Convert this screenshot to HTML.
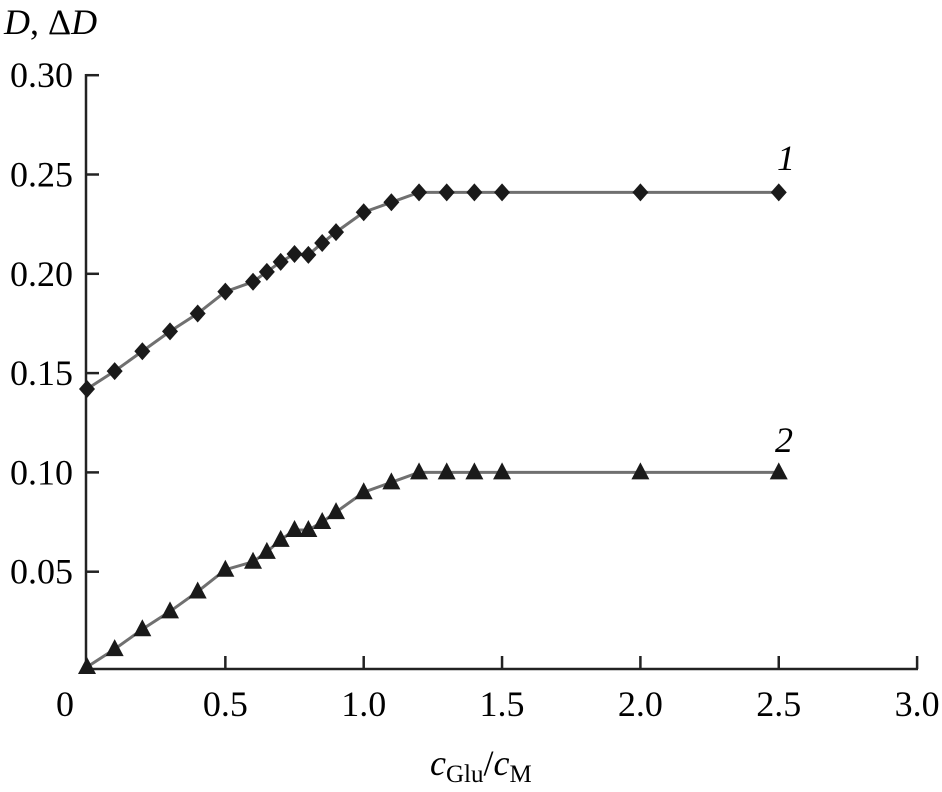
<!DOCTYPE html>
<html><head><meta charset="utf-8"><style>
body{margin:0;background:#fff}
svg{display:block;font-family:"Liberation Serif",serif}
</style></head><body>
<svg id="chart" width="942" height="792" viewBox="0 0 942 792">
<g id="axes"></g>
<g id="marks"></g>
<text x="4" y="34" font-size="36" font-style="italic">D<tspan font-style="normal">, Δ</tspan>D</text>
<text x="430" y="775" font-size="36"><tspan font-style="italic">c</tspan><tspan font-size="25" dy="7">Glu</tspan><tspan dy="-7">/</tspan><tspan font-style="italic">c</tspan><tspan font-size="25" dy="7">M</tspan></text>
<text x="777" y="170" font-size="36" font-style="italic">1</text>
<text x="775" y="452" font-size="36" font-style="italic">2</text>
</svg>
<script>
const xValues=[0,0.1,0.2,0.3,0.4,0.5,0.6,0.65,0.7,0.75,0.8,0.85,0.9,1.0,1.1,1.2,1.3,1.4,1.5,2.0,2.5];
const series1=[0.142,0.151,0.161,0.171,0.180,0.191,0.196,0.201,0.206,0.210,0.2095,0.2155,0.221,0.231,0.236,0.241,0.241,0.241,0.241,0.241,0.241];
const series2=[0.002,0.011,0.021,0.030,0.040,0.051,0.055,0.060,0.066,0.071,0.071,0.075,0.080,0.090,0.095,0.100,0.100,0.100,0.100,0.100,0.100];
const xTicks=[0,0.5,1.0,1.5,2.0,2.5,3.0];
const xTickLabels=["0","0.5","1.0","1.5","2.0","2.5","3.0"];
const yTicks=[0.05,0.10,0.15,0.20,0.25,0.30];
const yTickLabels=["0.05","0.10","0.15","0.20","0.25","0.30"];
const NS="http://www.w3.org/2000/svg";
const X=v=>87+v*276.7;
const Y=v=>671-v*1986;
function mk(tag,attrs,parent){const e=document.createElementNS(NS,tag);for(const k in attrs)e.setAttribute(k,attrs[k]);parent.appendChild(e);return e;}
const ax=document.getElementById('axes'),mg=document.getElementById('marks');
let a=mk('line',{x1:86,y1:74,x2:86,y2:670,stroke:'#222','stroke-width':2.5},ax);


a=mk('line',{x1:85,y1:669,x2:918,y2:669,stroke:'#222','stroke-width':2.5},ax);


xTicks.forEach((v,i)=>{
 if(i>0){const t=mk('line',{x1:X(v),y1:669,x2:X(v),y2:656,stroke:'#222','stroke-width':2.5},ax);
 
 }
 const l=mk('text',{x:i==0?X(v)-22:X(v),y:716,'font-size':36,'text-anchor':'middle'},ax);l.textContent=xTickLabels[i];
 
 
});
yTicks.forEach((v,i)=>{
 const t=mk('line',{x1:86,y1:Y(v),x2:99,y2:Y(v),stroke:'#222','stroke-width':2.5},ax);
 
 
 const l=mk('text',{x:73,y:Y(v)+12,'font-size':36,'text-anchor':'end'},ax);l.textContent=yTickLabels[i];
 
 
});
function draw(vals,shape,name){
 const pts=xValues.map((x,i)=>X(x)+','+Y(vals[i])).join(' ');
 const p=mk('polyline',{points:pts,fill:'none',stroke:'#707070','stroke-width':3},mg);
 
 
 xValues.forEach((x,i)=>{
  const cx=X(x),cy=Y(vals[i]);let m;
  if(shape==='d')m=mk('polygon',{points:`${cx},${cy-9} ${cx+8},${cy} ${cx},${cy+9} ${cx-8},${cy}`,fill:'#1a1a1a'},mg);
  else m=mk('polygon',{points:`${cx},${cy-10} ${cx+9},${cy+7} ${cx-9},${cy+7}`,fill:'#1a1a1a'},mg);
  
  
 });
}
draw(series1,'d','series-1');
draw(series2,'t','series-2');
</script>
</body></html>
